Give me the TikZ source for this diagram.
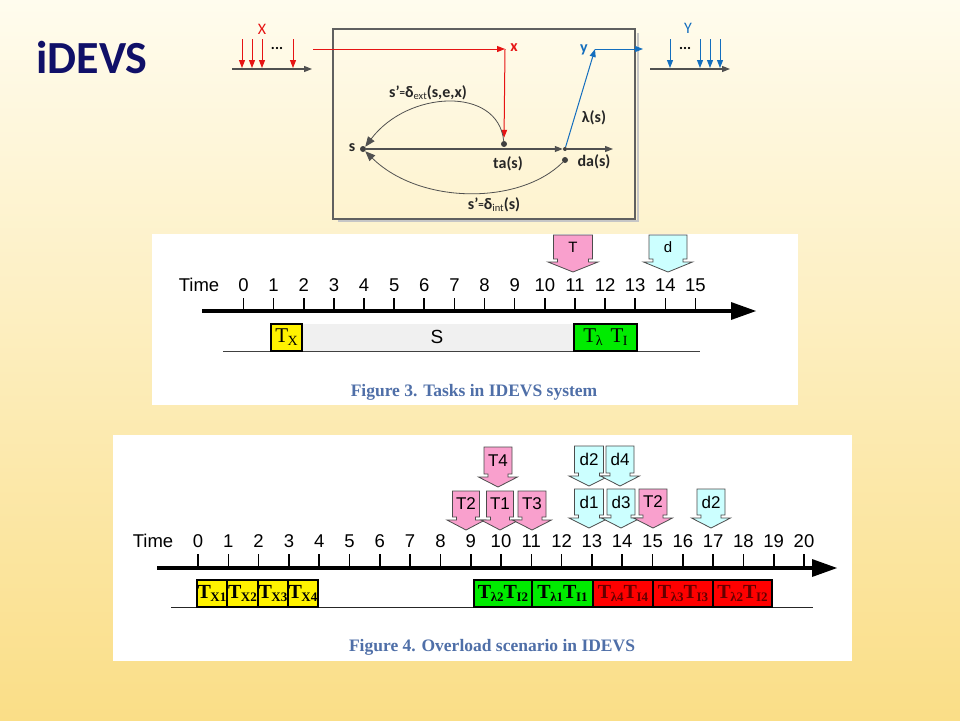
\documentclass[tikz,border=0pt]{standalone}
\usepackage{fontspec}
\setmainfont{Liberation Sans}
\newfontfamily\carl{Carlito}
\newfontfamily\tms{Liberation Serif}
\usetikzlibrary{arrows.meta}
\definecolor{navy}{RGB}{16,16,104}
\definecolor{bgtop}{RGB}{255,252,238}
\definecolor{bgmid}{RGB}{253,239,195}
\definecolor{bgbot}{RGB}{250,222,135}
\definecolor{capblue}{RGB}{79,111,168}
\definecolor{pinkc}{RGB}{249,160,205}
\definecolor{cyanc}{RGB}{204,255,255}
\definecolor{redx}{RGB}{230,20,20}
\definecolor{bluey}{RGB}{20,110,190}
\definecolor{axgray}{RGB}{80,80,80}
\definecolor{grnbox}{RGB}{0,235,0}
\definecolor{redbox}{RGB}{255,0,0}
\definecolor{dred}{RGB}{100,0,0}
\newcommand{\dcall}[7]{%
  \begin{scope}[shift={(#2,#3)}]
  \draw[callline,fill=#6] (-#4,0) -- (#4,0) -- (#4,#5) -- ({#4-4},#5) -- ({#4-4},{#5+3}) -- ({#4+5.5},{#5+3}) -- (0,{#5+13}) -- ({-#4-5.5},{#5+3}) -- ({-#4+4},{#5+3}) -- ({-#4+4},#5) -- (-#4,#5) -- cycle;
  \node[calltext] (#1) at (0,{#5/2}) {#7};
  \end{scope}}
\def\tsz{20}\def\ssz{13}
\newcommand{\tsub}[2]{{\fontsize{\tsz}{\tsz}\selectfont #1}\kern-0.5pt\raisebox{-3pt}{\fontsize{\ssz}{\ssz}\selectfont #2}}
\begin{document}
\begin{tikzpicture}[x=1pt,y=-1pt,
  lbl/.style={font=\carl\bfseries\fontsize{16}{16}\selectfont, text=black!85, inner sep=0},
  dotn/.style={circle, fill=black!75, inner sep=0, minimum size=6pt},
  redarr/.style={draw=redx, line width=1, -{Triangle[length=8pt,width=6pt]}},
  bluearr/.style={draw=bluey, line width=1, -{Triangle[length=8pt,width=6pt]}},
  grayarr/.style={draw=axgray, line width=1.1, -{Triangle[length=8pt,width=6pt]}},
  callline/.style={draw=black!70, line width=0.8},
  calltext/.style={font=\fontsize{17}{17}\selectfont, inner sep=0},
  num/.style={font=\fontsize{18.5}{19}\selectfont, inner sep=0},
  tick/.style={line width=1.6, black},
  capt/.style={font=\tms\bfseries\fontsize{17.5}{18}\selectfont, text=capblue},
  boxn/.style={draw=black, line width=1.2, inner sep=0, minimum height=27pt},
  bboxt/.style={font=\tms\bfseries}
]
\useasboundingbox (0,0) rectangle (960,720);
\shade[top color=bgtop, middle color=bgmid, bottom color=bgbot] (0,0) rectangle (960,720);

% title
\node[font=\carl\bfseries\fontsize{46}{46}\selectfont, text=navy] (title) at (92,58) {iDEVS};

% ---------------- top diagram ----------------
\draw[gray!45, line width=2.5] (338,221) -- (638,221) -- (638,33);
\draw[gray!75!black, line width=1.3] (333,29) rectangle (635,219);

% input X
\node[font=\carl\fontsize{16}{16}\selectfont, text=redx] (Xlab) at (262,29) {X};
\coordinate (xa0) at (232,69); \coordinate (xa1) at (312,69);
\draw[grayarr] (xa0) -- (xa1);
\foreach \xx/\nm in {242/a,252/b,262/c,293/d}{
  \coordinate (xt\nm) at (\xx,39); \coordinate (xb\nm) at (\xx,68);
  \draw[redarr] (xt\nm) -- (xb\nm);}
\node[font=\carl\bfseries\fontsize{15}{15}\selectfont] (xdots) at (277,48) {...};

% output Y
\node[font=\carl\fontsize{16}{16}\selectfont, text=bluey] (Ylab) at (688,28) {Y};
\coordinate (ya0) at (650,69); \coordinate (ya1) at (730,69);
\draw[grayarr] (ya0) -- (ya1);
\foreach \xx/\nm in {670/a,700/b,710/c,720/d}{
  \coordinate (yt\nm) at (\xx,39); \coordinate (yb\nm) at (\xx,68);
  \draw[bluearr] (yt\nm) -- (yb\nm);}
\node[font=\carl\bfseries\fontsize{15}{15}\selectfont] (ydots) at (685,48) {...};

% inner
\node[dotn] (s) at (363,149) {};
\node[dotn] (ta) at (504,144) {};
\node[dotn, minimum size=4pt] (lam) at (565,149) {};
\node[dotn] (da) at (565,160) {};
\coordinate (axend) at (613,149);
\draw[grayarr] (s) -- (lam.west);
\draw[grayarr] (lam) -- (axend);

\coordinate (xin) at (313,49);
\coordinate (xcorner) at (505,49);
\draw[redarr] (xin) -- (xcorner);
\draw[redarr, shorten >=3pt] (xcorner) -- (ta.north);
\node[lbl, text=redx] (xsm) at (514,48) {x};

\coordinate (ypt) at (595,49);
\coordinate (yout) at (643,49);
\draw[bluearr] (lam) -- (ypt);
\draw[bluearr] (ypt) -- (yout);
\node[lbl, text=bluey] (ysm) at (584,50) {y};

\draw[axgray, line width=0.8, -{Triangle[length=10pt,width=8pt]}] (ta) .. controls (498,86) and (408,90) .. (s.north east);
\draw[axgray, line width=0.8, -{Triangle[length=10pt,width=8pt]}] (da) .. controls (520,205) and (420,205) .. (s.south east);

\node[lbl] (slab) at (352,148) {s};
\node[lbl] (talab) at (508,164) {ta(s)};
\node[lbl] (dalab) at (594,162) {da(s)};
\node[lbl] (lamlab) at (594,118) {λ(s)};
\node[lbl] (extlab) at (428,93) {s’\raisebox{1pt}{\fontsize{11}{11}\selectfont =}δ\raisebox{-2pt}{\fontsize{10.5}{11}\selectfont\mdseries ext}(s,e,x)};
\node[lbl] (intlab) at (494,205) {s’\raisebox{1pt}{\fontsize{11}{11}\selectfont =}δ\raisebox{-2pt}{\fontsize{10.5}{11}\selectfont\mdseries int}(s)};

% ---------------- Figure 3 ----------------
\fill[white] (152,234) rectangle (798,405);
\node[num] (time3) at (199,285) {Time};
\foreach \i in {0,...,15}{
  \node[num] (f3n\i) at ({243.5+30.13*\i},285) {\i};
  \draw[tick] ({243.5+30.13*\i},298) -- ({243.5+30.13*\i},311);}
\draw[line width=4] (202,311) -- (734,311);
\fill (731,302) -- (756,311) -- (731,320) -- cycle;
\fill[black!6] (302,324) rectangle (574,351);
\draw[black!75, line width=0.9] (223,351) -- (700,351);
\node[font=\fontsize{19}{19}\selectfont, inner sep=0] (S) at (437,337) {S};
\begingroup\def\tsz{21}\def\ssz{14}
\node[boxn, fill=yellow, minimum width=31pt, font=\tms] (tx3) at (286.5,337.5) {\tsub{T}{X}};
\node[boxn, fill=grnbox, minimum width=63pt, font=\tms] (tl3) at (605.5,337.5) {\tsub{T}{λ}\hspace{8pt}\tsub{T}{I}};
\endgroup
\dcall{callT}{573}{235}{19.5}{24}{pinkc}{\fontsize{15}{15}\selectfont T}
\dcall{calld}{668}{235}{19}{24}{cyanc}{\fontsize{15}{15}\selectfont d}
\node[capt] (cap3) at (474,392) {Figure 3. Tasks in IDEVS system};

% ---------------- Figure 4 ----------------
\fill[white] (113,435) rectangle (852,661);
\node[num] (time4) at (153,541) {Time};
\foreach \i in {0,...,20}{
  \node[num] (f4n\i) at ({198+30.3*\i},541) {\i};
  \draw[tick] ({198+30.3*\i},554) -- ({198+30.3*\i},568);}
\draw[line width=4] (157,568) -- (815,568);
\fill (812,559) -- (837,568) -- (812,577) -- cycle;
\draw[black!85, line width=0.9] (171,607) -- (813,607);
% yellow
\foreach \a/\b/\s [count=\k] in {197/227/X1,227/258/X2,258/288/X3,288/318/X4}{
  \node[boxn, fill=yellow, minimum width={\b-\a}, bboxt] (tx4\k) at ({(\a+\b)/2},593.5) {\tsub{T}{\s}};}
\node[boxn, fill=grnbox, minimum width=58pt, bboxt] (g1) at (503,593.5) {\tsub{T}{λ2}\tsub{T}{I2}};
\node[boxn, fill=grnbox, minimum width=61pt, bboxt] (g2) at (562.5,593.5) {\tsub{T}{λ1}\tsub{T}{I1}};
\node[boxn, fill=redbox, minimum width=60pt, bboxt, text=dred] (r1) at (623,593.5) {\tsub{T}{λ4}\tsub{T}{I4}};
\node[boxn, fill=redbox, minimum width=60pt, bboxt, text=dred] (r2) at (683,593.5) {\tsub{T}{λ3}\tsub{T}{I3}};
\node[boxn, fill=redbox, minimum width=59pt, bboxt, text=dred] (r3) at (742.5,593.5) {\tsub{T}{λ2}\tsub{T}{I2}};
% callouts
\dcall{cT4}{498}{447}{14}{27}{pinkc}{T4}
\dcall{cd2}{589}{446}{14.5}{27}{cyanc}{d2}
\dcall{cd4}{620}{446}{14}{27}{cyanc}{d4}
\dcall{cT2}{466}{491}{13.5}{26}{pinkc}{T2}
\dcall{cT1}{500}{491}{13.5}{26}{pinkc}{T1}
\dcall{cT3}{532}{491}{14}{26}{pinkc}{T3}
\dcall{cd1}{589}{489}{14.5}{26}{cyanc}{d1}
\dcall{cd3}{621}{489}{14}{26}{cyanc}{d3}
\dcall{cT2b}{653}{489}{14}{26}{pinkc}{T2}
\dcall{cd2b}{711}{489}{14}{26}{cyanc}{d2}
\node[capt] (cap4) at (492,647) {Figure 4. Overload scenario in IDEVS};
\end{tikzpicture}
\end{document}
